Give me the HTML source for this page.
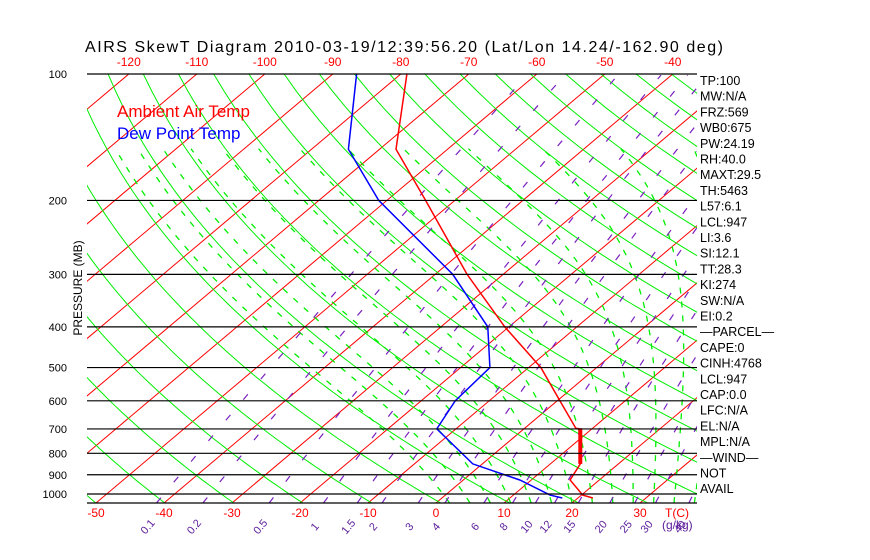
<!DOCTYPE html>
<html><head><meta charset="utf-8"><style>
body{margin:0;background:#fff;overflow:hidden;}
svg{display:block;font-family:"Liberation Sans",sans-serif;}
</style></head><body>
<svg id="chart" width="870" height="560" viewBox="0 0 870 560" xmlns="http://www.w3.org/2000/svg">
<defs><clipPath id="pc"><rect x="87" y="74" width="610" height="429"/></clipPath></defs>
<rect x="0" y="0" width="870" height="560" fill="#fff"/>
<text x="85" y="52" font-size="16" textLength="638" lengthAdjust="spacing" fill="#000">AIRS SkewT Diagram 2010-03-19/12:39:56.20 (Lat/Lon 14.24/-162.90 deg)</text>
<g id="grid" clip-path="url(#pc)"></g>
<g id="profiles" clip-path="url(#pc)"></g>
<g id="axes"></g>
<text x="117" y="117" font-size="17" fill="#ff0000">Ambient Air Temp</text>
<text x="117" y="139" font-size="17" fill="#0000ff">Dew Point Temp</text>
<text transform="translate(82,288) rotate(-90)" text-anchor="middle" font-size="12" fill="#000">PRESSURE (MB)</text>
</svg>
<script>
const pressureLevels=[100,200,300,400,500,600,700,800,900,1000];
const topTempTicks=[-120,-110,-100,-90,-80,-70,-60,-50,-40];
const bottomTempTicks=[-50,-40,-30,-20,-10,0,10,20,30];
const mixRatios=[0.1,0.2,0.5,1,1.5,2,3,4,6,8,10,12,15,20,25,30,40];
const tempP=[100,151,200,300,400,500,600,697,700,848,926,1006,1022];
const tempT=[-79.1,-67.6,-54.3,-35.3,-20.6,-8.2,0.4,7.5,8.3,14.4,15.7,20.2,22.2];
const dewP=[100,151,200,300,400,500,600,700,848,926,1006,1022];
const dewT=[-86.5,-74.6,-61.2,-37.4,-23.1,-15.7,-15,-12.8,-1.4,8.3,15.4,17.7];
const statLabels=["TP:100","MW:N/A","FRZ:569","WB0:675","PW:24.19","RH:40.0","MAXT:29.5","TH:5463","L57:6.1","LCL:947","LI:3.6","SI:12.1","TT:28.3","KI:274","SW:N/A","EI:0.2","\u2014PARCEL\u2014","CAPE:0","CINH:4768","LCL:947","CAP:0.0","LFC:N/A","EL:N/A","MPL:N/A","\u2014WIND\u2014"," NOT"," AVAIL"];

const NS="http://www.w3.org/2000/svg";
const Y0=74,B=182.4,BOT=503,LEFT=87,RIGHT=697;
function yP(p){return Y0+B*Math.log(p/100);}
function xT(T,p){return 436+6.8*T+1.186*(BOT-yP(p));}
function mk(tag,attrs,parent){const e=document.createElementNS(NS,tag);for(const k in attrs)e.setAttribute(k,attrs[k]);parent.appendChild(e);return e;}
const grid=document.getElementById('grid'),prof=document.getElementById('profiles'),axes=document.getElementById('axes');
const pBot=100*Math.exp((BOT-Y0)/B);

for(let T=-160;T<=50;T+=10){
  const l=mk('line',{x1:xT(T,pBot),y1:BOT,x2:xT(T,100),y2:Y0,stroke:'#ff0000','stroke-width':1},grid);
  
  
}
for(let th=200;th<=500;th+=10){
  let pts=[];
  for(let p=100;p<=pBot+1;p+=10){const T=th*Math.pow(p/1000,0.286)-273.15;pts.push(xT(T,p).toFixed(1)+','+yP(p).toFixed(1));}
  const e=mk('polyline',{points:pts.join(' '),fill:'none',stroke:'#00ee00','stroke-width':1},grid);
  
  
}
function es(T){return 6.112*Math.exp(17.67*T/(T+243.5));}
for(let t0=2;t0<=40;t0+=3){
  let T=t0+273.15,pts=[];
  for(let p=pBot;p>=150;p-=5){
    const Tc=T-273.15;const e=es(Tc);const rs=0.622*e/(p-e);
    pts.push(xT(Tc,p).toFixed(1)+','+yP(p).toFixed(1));
    const num=287*T+2.5e6*rs,den=1004+2.5e6*2.5e6*rs*0.622/(287*T*T);
    T-= num/den*Math.log(p/(p-5));
  }
  const e=mk('polyline',{points:pts.join(' '),fill:'none',stroke:'#00ee00','stroke-width':1.3,'stroke-dasharray':'6,8'},grid);
  
  
}
function tdew(w,p){const e=w*p/(622+w);const a=Math.log(e/6.112);return 243.5*a/(17.67-a);}
mixRatios.forEach(w=>{
  let pts=[];
  for(let p=pBot;p>=100;p-=10)pts.push(xT(tdew(w,p),p).toFixed(1)+','+yP(p).toFixed(1));
  const e=mk('polyline',{points:pts.join(' '),fill:'none',stroke:'#7a1fc0','stroke-width':1.2,'stroke-dasharray':'7,20'},grid);
  
  
  const x=xT(tdew(w,pBot),pBot);
  const t=mk('text',{x:x-6,y:529,'font-size':11,fill:'#5a1a9a',transform:`rotate(-50 ${x-6} 529)`,'text-anchor':'middle'},axes);
  t.textContent=w;
  
  
});
pressureLevels.forEach(p=>{
  const l=mk('line',{x1:LEFT,x2:RIGHT,y1:yP(p),y2:yP(p),stroke:'#000','stroke-width':1.2},axes);
  
  
  const t=mk('text',{x:67,y:yP(p)+4,'font-size':11,'text-anchor':'end',fill:'#000'},axes);
  t.textContent=p;
  
  
});
const bl=mk('line',{x1:LEFT,x2:RIGHT,y1:BOT,y2:BOT,stroke:'#000','stroke-width':1.2},axes);


topTempTicks.forEach(T=>{
  const t=mk('text',{x:xT(T,100),y:66,'font-size':12,'text-anchor':'middle',fill:'#ff0000'},axes);
  t.textContent=T;
  
  
});
bottomTempTicks.forEach(T=>{
  const t=mk('text',{x:xT(T,pBot),y:517,'font-size':12,'text-anchor':'middle',fill:'#ff0000'},axes);
  t.textContent=T;
  
  
});
const tc=mk('text',{x:665,y:517,'font-size':12,fill:'#ff0000'},axes);tc.textContent='T(C)';


const gk=mk('text',{x:662,y:529,'font-size':12,fill:'#5a1a9a'},axes);gk.textContent='(g/kg)';


statLabels.forEach((s,i)=>{
  const t=mk('text',{x:700,y:85+i*15.7,'font-size':12.5,fill:'#000'},axes);
  t.textContent=s;
  
  
});
function prof_line(P,T,color,name,w){
  const pts=P.map((p,i)=>xT(T[i],p).toFixed(1)+','+yP(p).toFixed(1));
  const e=mk('polyline',{points:pts.join(' '),fill:'none',stroke:color,'stroke-width':w},prof);
  
  
}
prof_line(tempP,tempT,'#ff0000','temperature-profile',1.5);
prof_line(dewP,dewT,'#0000ff','dewpoint-profile',1.5);
const thickP=tempP.filter(p=>p>=700&&p<=848),thickT=tempT.filter((t,i)=>tempP[i]>=700&&tempP[i]<=848);
prof_line(thickP,thickT,'#ff0000','temperature-inversion-segment',4);
</script>
</body></html>
